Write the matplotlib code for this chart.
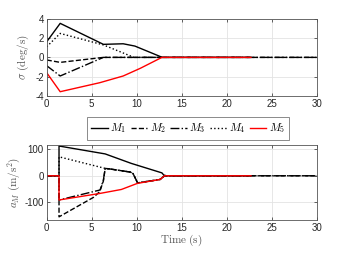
import matplotlib
matplotlib.use("Agg")
import matplotlib.pyplot as plt

plt.rcParams["mathtext.fontset"] = "cm"
plt.rcParams["font.family"] = ["Liberation Sans", "DejaVu Sans"]
plt.rcParams["axes.unicode_minus"] = False

# sigma (deg/s), top panel
t_sig_m1 = [0, 1.5, 6.3, 8.5, 9.8, 12.85, 22.7]
sig_m1 = [1.63, 3.55, 1.36, 1.42, 1.18, 0, 0]
t_sig_m2 = [0, 1.5, 6.3, 30]
sig_m2 = [-0.27, -0.52, 0, 0]
t_sig_m3 = [0, 1.5, 6.3, 30]
sig_m3 = [-0.87, -1.94, 0, 0]
t_sig_m4 = [0, 1.5, 6.3, 9.7, 22.7]
sig_m4 = [1.11, 2.5, 1.3, 0, 0]
t_sig_m5 = [0, 1.5, 5.9, 8.5, 10.4, 12.8, 22.7]
sig_m5 = [-1.6, -3.58, -2.64, -1.94, -1.14, 0, 0]

# a_M (m/s^2), bottom panel
t_a_m1 = [0, 1.37, 1.37, 6.5, 9.4, 12.8, 13.0, 13.3, 22.7]
a_m1 = [0, 0, 113, 83, 47, 11, 3, 0, 0]
t_a_m2 = [0, 1.37, 1.37, 5.2, 5.9, 6.3, 6.5, 7.0, 9.3, 9.6, 10.1, 12.6, 13.1, 30]
a_m2 = [0, 0, -156, -82, -60, -20, 28, 26, 14, 8, -27, -14, 0, 0]
t_a_m3 = [0, 1.37, 1.37, 5.93, 6.3, 6.5, 7.0, 9.3, 9.6, 10.1, 12.6, 13.1, 30]
a_m3 = [0, 0, -92, -54, -16, 28, 26, 14, 8, -27, -14, 0, 0]
t_a_m4 = [0, 1.37, 1.37, 6.5, 7.0, 9.3, 9.6, 10.1, 12.6, 13.1, 22.7]
a_m4 = [0, 0, 72, 28, 26, 14, 8, -27, -14, 0, 0]
t_a_m5 = [0, 1.37, 1.37, 5.93, 8.3, 10.07, 12.6, 13.1, 22.7]
a_m5 = [0, 0, -92, -67, -52, -29, -14, 0, 0]

labels = [r"$M_1$", r"$M_2$", r"$M_3$", r"$M_4$", r"$M_5$"]
styles = [("k", "-"), ("k", "--"), ("k", "-."), ("k", ":"), ("r", "-")]

sig_series = [(t_sig_m1, sig_m1), (t_sig_m2, sig_m2), (t_sig_m3, sig_m3),
              (t_sig_m4, sig_m4), (t_sig_m5, sig_m5)]
a_series = [(t_a_m1, a_m1), (t_a_m2, a_m2), (t_a_m3, a_m3),
            (t_a_m4, a_m4), (t_a_m5, a_m5)]

fig = plt.figure(figsize=(3.5, 2.63), dpi=100)
ax1 = fig.add_axes([0.1334, 0.636, 0.7714, 0.2916])
ax2 = fig.add_axes([0.1334, 0.1635, 0.7714, 0.2863])


def style_axes(ax):
    ax.set_xlim(0, 30)
    ax.set_xticks(range(0, 31, 5))
    ax.grid(True, color="#e3e3e3", lw=0.6)
    ax.set_axisbelow(True)
    ax.tick_params(direction="in", top=True, right=True, length=2.5, width=0.5,
                   labelsize=7, colors="#262626", pad=2)
    for s in ax.spines.values():
        s.set_color("#555555")
        s.set_linewidth(0.6)


handles = []
for (t, v), (c, ls), lab in zip(sig_series, styles, labels):
    h, = ax1.plot(t, v, color=c, ls=ls, lw=1.0, label=lab)
    handles.append(h)
for (t, v), (c, ls) in zip(a_series, styles):
    ax2.plot(t, v, color=c, ls=ls, lw=1.0)

style_axes(ax1)
ax1.set_ylim(-4, 4)
ax1.set_yticks([-4, -2, 0, 2, 4])
ax1.set_ylabel(r"$\sigma\ \mathrm{(deg/s)}$", fontsize=8, color="#555555", labelpad=3)

style_axes(ax2)
ax2.set_ylim(-168, 118)
ax2.set_yticks([-100, 0, 100])
ax2.set_ylabel(r"$a_M\ \mathrm{(m/s^2)}$", fontsize=8, color="#555555", labelpad=1)
ax2.set_xlabel(r"$\mathrm{Time\ (s)}$", fontsize=8, color="#555555", labelpad=0)

leg = fig.legend(handles=handles, loc="center", bbox_to_anchor=(0.537, 0.512),
                 ncol=5, fontsize=8, frameon=True, fancybox=False,
                 handlelength=1.5, handletextpad=0.2, columnspacing=0.4,
                 borderpad=0.4)
leg.get_frame().set_edgecolor("#555555")
leg.get_frame().set_linewidth(0.6)

fig.savefig("out.png", dpi=100)
